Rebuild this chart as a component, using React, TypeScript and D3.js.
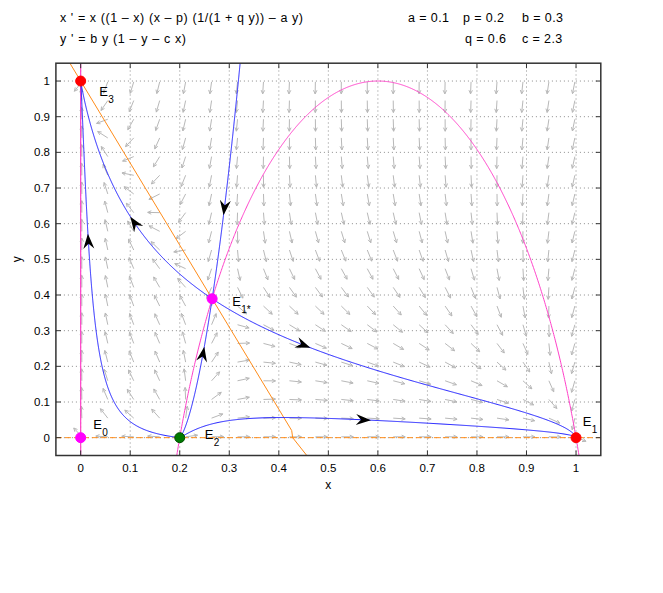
import React from 'react';
import * as d3 from 'd3';

// model parameters, as printed in the header
const a = 0.1;
const p = 0.2;
const b = 0.3;
const q = 0.6;
const c = 2.3;

const tickValues = [0, 0.1, 0.2, 0.3, 0.4, 0.5, 0.6, 0.7, 0.8, 0.9, 1];
const tickLabels = ['0', '0.1', '0.2', '0.3', '0.4', '0.5', '0.6', '0.7', '0.8', '0.9', '1'];

// equilibria (E1* is refined numerically below)
const eqSub = ['0', '1', '2', '3', '1*'];
const eqX = [0, 1, 0.2, 0, 0.265];
const eqY = [0, 0, 0, 1, 0.39];
const eqFill = ['#ff00ff', '#ff0000', '#007a00', '#ff0000', '#ff00ff'];

// points the two free orbits pass through
const seedX = [0.5, 0.0505];
const seedY = [0.054, 0.16];

// y-nullcline as drawn (the contour bends near y = 0)
const yNullX = [-0.0217, 0.426, 0.428, 0.4565];
const yNullY = [1.05, 0.02, 0.0, -0.05];

// where the black direction arrows sit on the orbits
const arrowX = [0.291, 0.109, 0.022, 0.245, 0.451, 0.572];
const arrowY = [0.643, 0.604, 0.553, 0.236, 0.264, 0.054];

const W = 663;
const H = 593;
const font = 'Liberation Sans, Arial, Helvetica, sans-serif';

const x = d3.scaleLinear().domain([-0.05, 1.05]).range([55.9, 600.8]);
const y = d3.scaleLinear().domain([-0.05, 1.05]).range([455.5, 63.2]);

const fx = (u: number, v: number) => u * ((1 - u) * (u - p) / (1 + q * v) - a * v);
const fy = (u: number, v: number) => b * v * (1 - v - c * u);

// interior equilibrium: bisection along y = 1 - c x
function interior(): [number, number] {
  const h = (u: number) => {
    const v = 1 - c * u;
    return (1 - u) * (u - p) / (1 + q * v) - a * v;
  };
  let lo = 0.21, hi = 0.35;
  for (let i = 0; i < 80; i++) {
    const m = (lo + hi) / 2;
    if (h(lo) * h(m) <= 0) hi = m; else lo = m;
  }
  const u = (lo + hi) / 2;
  return [u, 1 - c * u];
}

const [sx, sy] = interior();
const eqs: [number, number][] = eqX.map((v, i) => (i === 4 ? [sx, sy] : [v, eqY[i]]));

function step(u: number, v: number, dir: number, ds: number): [number, number] {
  const g = (uu: number, vv: number): [number, number] => {
    const a1 = fx(uu, vv), b1 = fy(uu, vv);
    const n = Math.hypot(a1, b1) || 1e-12;
    return [dir * a1 / n, dir * b1 / n];
  };
  const k1 = g(u, v);
  const k2 = g(u + ds / 2 * k1[0], v + ds / 2 * k1[1]);
  const k3 = g(u + ds / 2 * k2[0], v + ds / 2 * k2[1]);
  const k4 = g(u + ds * k3[0], v + ds * k3[1]);
  return [
    u + ds / 6 * (k1[0] + 2 * k2[0] + 2 * k3[0] + k4[0]),
    v + ds / 6 * (k1[1] + 2 * k2[1] + 2 * k3[1] + k4[1]),
  ];
}

function orbit(u0: number, v0: number, dir: number): [number, number][] {
  const pts: [number, number][] = [[u0, v0]];
  let u = u0, v = v0;
  for (let i = 0; i < 8000; i++) {
    [u, v] = step(u, v, dir, 0.002);
    pts.push([u, v]);
    if (u < -0.08 || u > 1.08 || v < -0.08 || v > 1.08) break;
    if (i > 15) {
      const hit = eqs.find(e => Math.hypot(e[0] - u, e[1] - v) < 0.003);
      if (hit) { pts.push(hit); break; }
    }
  }
  return pts;
}

// saddle eigen-directions at E1*
const e = 1e-6;
const j11 = (fx(sx + e, sy) - fx(sx - e, sy)) / (2 * e);
const j12 = (fx(sx, sy + e) - fx(sx, sy - e)) / (2 * e);
const j21 = (fy(sx + e, sy) - fy(sx - e, sy)) / (2 * e);
const j22 = (fy(sx, sy + e) - fy(sx, sy - e)) / (2 * e);
const tr = j11 + j22, det = j11 * j22 - j12 * j21;
const disc = Math.sqrt(tr * tr - 4 * det);
const eig = (lam: number): [number, number] => {
  const vx = j12, vy = lam - j11;
  const n = Math.hypot(vx, vy);
  return [vx / n, vy / n];
};
const unst = eig((tr + disc) / 2);
const stab = eig((tr - disc) / 2);

function manifold(v: [number, number], sign: number, dir: number) {
  const s = 0.003;
  const pts = orbit(sx + sign * s * v[0], sy + sign * s * v[1], dir);
  return [[sx, sy] as [number, number], ...pts];
}

const sUp = stab[1] > 0 ? 1 : -1;
const uLeft = unst[0] < 0 ? 1 : -1;

const orbits: [number, number][][] = [
  manifold(stab, sUp, -1),
  manifold(stab, -sUp, -1),
  manifold(unst, uLeft, 1),
  manifold(unst, -uLeft, 1),
  ...seedX.map((sxx, i) => [...orbit(sxx, seedY[i], -1).reverse(), ...orbit(sxx, seedY[i], 1).slice(1)]),
];

// x-nullcline curve: a q y^2 + a y - (1 - x)(x - p) = 0
const xNull: [number, number][] = d3.range(0.17, 1.03, 0.001).map(u => {
  const g = (1 - u) * (u - p);
  const d = a * a + 4 * a * q * g;
  return [u, d >= 0 ? (-a + Math.sqrt(d)) / (2 * a * q) : -1];
}).filter(d => d[1] > -0.5);

const line = d3.line<[number, number]>().x(d => x(d[0])).y(d => y(d[1]));

// direction field grid
const grid = d3.range(1, 21).map(k => -0.05 + k * 1.1 / 21);

function fieldArrow(u: number, v: number, key: string) {
  const dx = fx(u, v) * 495, dy = -fy(u, v) * 356;
  const n = Math.hypot(dx, dy);
  if (n < 1e-12) return null;
  const ux = dx / n, uy = dy / n;
  const L = 12, hl = 4, ang = 0.45;
  const x0 = x(u), y0 = y(v);
  const x1 = x0 + L * ux, y1 = y0 + L * uy;
  const bx = -ux, by = -uy;
  const r = (t: number): [number, number] => [
    x1 + hl * (bx * Math.cos(t) - by * Math.sin(t)),
    y1 + hl * (bx * Math.sin(t) + by * Math.cos(t)),
  ];
  const h1 = r(ang), h2 = r(-ang);
  return (
    <path key={key}
      d={`M${x0},${y0}L${x1},${y1}M${h1[0]},${h1[1]}L${x1},${y1}L${h2[0]},${h2[1]}`}
      stroke="#b8b8b8" strokeWidth={1} fill="none" />
  );
}

const allPts = orbits.flat();
const marks = arrowX.map((ax, i) => {
  let best = allPts[0], bd = Infinity;
  for (const pt of allPts) {
    const d = Math.hypot(x(pt[0]) - x(ax), y(pt[1]) - y(arrowY[i]));
    if (d < bd) { bd = d; best = pt; }
  }
  const ang = Math.atan2(-fy(best[0], best[1]) * 356, fx(best[0], best[1]) * 495) * 180 / Math.PI;
  return { px: x(best[0]), py: y(best[1]), ang };
});

// label offsets from each equilibrium marker (px)
const labelDx = [12.6, 6.7, 25, 18.6, 20];
const labelDy = [-8.7, -11.7, 1.3, 14.7, 7];

export default function App() {
  const [x0, x1] = x.range();
  const [y0, y1] = y.range();
  return (
    <svg width={W} height={H} style={{ position: 'absolute', left: 0, top: 0, background: '#fff' }}
      fontFamily={font}>
      <defs>
        <clipPath id="plot">
          <rect x={x0} y={y1} width={x1 - x0} height={y0 - y1} />
        </clipPath>
      </defs>
      <rect x={0} y={0} width={W} height={H} fill="#fff" />

      <g fontSize={12.5}>
        <text x={60} y={22} textLength={243} lengthAdjust="spacing">x ' = x ((1 – x) (x – p) (1/(1 + q y)) – a y)</text>
        <text x={60} y={43} textLength={126} lengthAdjust="spacing">y ' = b y (1 – y – c x)</text>
        <text x={408} y={22} letterSpacing={0.4}>a = {a}</text>
        <text x={463} y={22} letterSpacing={0.4}>p = {p}</text>
        <text x={522} y={22} letterSpacing={0.4}>b = {b}</text>
        <text x={465} y={43} letterSpacing={0.4}>q = {q}</text>
        <text x={522} y={43} letterSpacing={0.4}>c = {c}</text>
      </g>

      <g stroke="#8c8c8c" strokeDasharray="1,3" strokeWidth={1}>
        {tickValues.map(t => <line key={'gx' + t} x1={x(t)} x2={x(t)} y1={y0} y2={y1} />)}
        {tickValues.map(t => <line key={'gy' + t} y1={y(t)} y2={y(t)} x1={x0} x2={x1} />)}
      </g>

      <g clipPath="url(#plot)">
        {grid.map((u, i) => grid.map((v, j) => fieldArrow(u, v, i + '-' + j)))}
        <line x1={x(0)} x2={x(0)} y1={y0} y2={y1} stroke="#ff40c8" strokeWidth={1.2} />
        <path d={line(xNull) || ''} fill="none" stroke="#ff40c8" strokeWidth={1} />
        <line x1={x0} x2={x1} y1={y(0)} y2={y(0)} stroke="#ff8c1a" strokeWidth={1} strokeDasharray="6,3" />
        <path d={line(yNullX.map((u, i) => [u, yNullY[i]] as [number, number])) || ''}
          fill="none" stroke="#ff8c1a" strokeWidth={1} />
        {orbits.map((o, i) => (
          <path key={'o' + i} d={line(o) || ''} fill="none" stroke="#1f1fff" strokeWidth={1} />
        ))}
        {marks.map((m, i) => (
          <path key={'m' + i} transform={`translate(${m.px},${m.py}) rotate(${m.ang}) translate(7,0)`}
            d="M0,0L-15,-5.5L-10,0L-15,5.5Z" fill="#000" />
        ))}
      </g>

      {eqs.map((eq, i) => (
        <g key={'e' + i}>
          <circle cx={x(eq[0])} cy={y(eq[1])} r={5} fill={eqFill[i]}
            stroke={i === 2 ? '#004d00' : eqFill[i]} strokeWidth={1} />
          <text x={x(eq[0]) + labelDx[i]} y={y(eq[1]) + labelDy[i]} fontSize={13}>E</text>
          <text x={x(eq[0]) + labelDx[i] + 9} y={y(eq[1]) + labelDy[i] + 7} fontSize={10}>{eqSub[i]}</text>
        </g>
      ))}

      <g stroke="#333" strokeWidth={1}>
        {tickValues.map(t => (
          <g key={'t' + t}>
            <line x1={x(t)} x2={x(t)} y1={y0} y2={y0 - 5} />
            <line x1={x(t)} x2={x(t)} y1={y1} y2={y1 + 5} />
            <line y1={y(t)} y2={y(t)} x1={x0} x2={x0 + 5} />
            <line y1={y(t)} y2={y(t)} x1={x1} x2={x1 - 5} />
          </g>
        ))}
      </g>
      <rect x={x0} y={y1} width={x1 - x0} height={y0 - y1} fill="none" stroke="#333" strokeWidth={1.5} />

      <g fontSize={11.5}>
        {tickValues.map((t, i) => (
          <text key={'xl' + t} x={x(t)} y={472} textAnchor="middle">{tickLabels[i]}</text>
        ))}
        {tickValues.map((t, i) => (
          <text key={'yl' + t} x={50} y={y(t) + 4} textAnchor="end">{tickLabels[i]}</text>
        ))}
      </g>
      <text x={x(0.5)} y={489} fontSize={12} textAnchor="middle">x</text>
      <text transform={`translate(21,${y(0.5)}) rotate(-90)`} fontSize={12} textAnchor="middle">y</text>
    </svg>
  );
}
